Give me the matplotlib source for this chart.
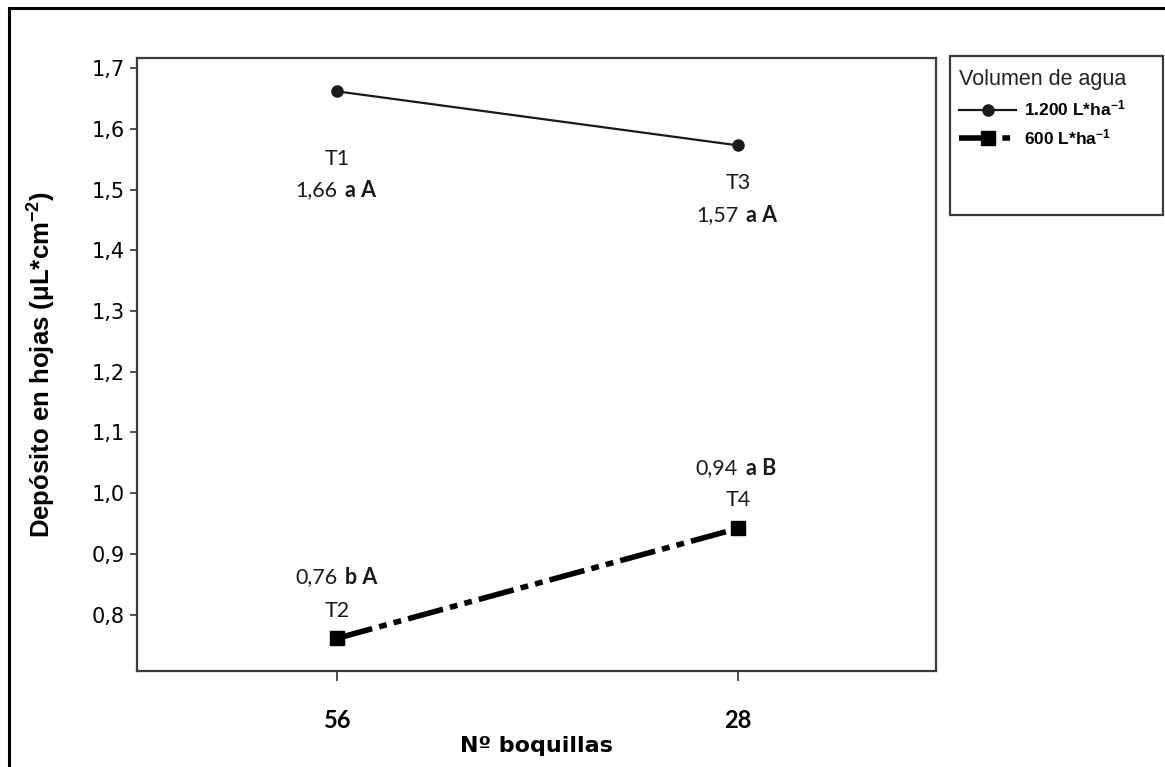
import matplotlib
matplotlib.use("Agg")
import matplotlib.pyplot as plt
from matplotlib.patches import Rectangle

# ---------------- data ----------------
categories = ["56", "28"]
series_names = ["1.200 L*ha$^{-1}$", "600 L*ha$^{-1}$"]
vol_1200 = [1.662, 1.573]
vol_600 = [0.761, 0.942]
treat_1200 = ["T1", "T3"]
treat_600 = ["T2", "T4"]
nums_1200 = ["1,66", "1,57"]
letters_1200 = ["a A", "a A"]
nums_600 = ["0,76", "0,94"]
letters_600 = ["b A", "a B"]
yticks = [0.8, 0.9, 1.0, 1.1, 1.2, 1.3, 1.4, 1.5, 1.6, 1.7]
ytick_labels = ["0,8", "0,9", "1,0", "1,1", "1,2", "1,3", "1,4", "1,5", "1,6", "1,7"]
legend_title = "Volumen de agua"
xlabel = "Nº boquillas"
ylabel = "Depósito en hojas (μL*cm$^{-2}$)"

plt.rcParams["mathtext.default"] = "regular"

W, H = 1165, 767
fig = plt.figure(figsize=(W / 100, H / 100), dpi=100)
fig.patch.set_facecolor("white")

# outer frame
fig.patches.append(Rectangle((9 / W, -0.2), 1.5, 1.2 - 8 / H,
                             transform=fig.transFigure, fill=False,
                             edgecolor="black", linewidth=2.2))

ax = fig.add_axes([137 / W, 1 - 671 / H, 799 / W, 613 / H])
x = list(range(len(categories)))

ax.plot(x, vol_1200, color="#1a1a1a", linewidth=1.6, marker="o",
        markersize=8, label=series_names[0], zorder=3)
l2, = ax.plot(x, vol_600, color="black", linewidth=4.0, marker="s",
              markersize=10, label=series_names[1], zorder=3,
              dash_capstyle="butt")
l2.set_dashes([6.5, 1.3, 1.4, 1.3, 1.4, 1.3])

ax.set_xlim(-0.5, 1.494)
ax.set_ylim(0.707, 1.717)
ax.set_xticks(x)
ax.set_xticklabels(categories, fontfamily="Lato", fontweight="bold", fontsize=17)
ax.set_yticks(yticks)
ax.set_yticklabels(ytick_labels, fontfamily="DejaVu Sans", fontsize=15)
ax.tick_params(axis="y", length=5, width=1.2, color="#333333", pad=4)
ax.tick_params(axis="x", length=7, width=1.2, color="#333333", pad=20)
for s in ax.spines.values():
    s.set_linewidth(1.6)
    s.set_color("#3a3a3a")

ax.set_xlabel(xlabel, fontfamily="DejaVu Sans", fontweight="bold",
              fontsize=16, labelpad=3)
ax.set_ylabel(ylabel, fontfamily="Liberation Sans", fontweight="bold",
              fontsize=18.5, labelpad=24)

# annotations
ann_font = dict(fontfamily="Lato", fontsize=15.5, color="#1a1a1a")
def annotate(xi, yi, treat, num, letters, dy_t, dy_n):
    ax.annotate(treat, (xi, yi), xytext=(0, dy_t), textcoords="offset pixels",
                ha="center", va="center", **ann_font)
    ax.annotate(num, (xi, yi), xytext=(0, dy_n), textcoords="offset pixels",
                ha="right", va="center", **ann_font)
    ax.annotate(letters, (xi, yi), xytext=(8, dy_n), textcoords="offset pixels",
                ha="left", va="center", fontweight="bold", **ann_font)

annotate(x[0], vol_1200[0], treat_1200[0], nums_1200[0], letters_1200[0], -68, -99)
annotate(x[1], vol_1200[1], treat_1200[1], nums_1200[1], letters_1200[1], -38, -70)
annotate(x[0], vol_600[0], treat_600[0], nums_600[0], letters_600[0], 27, 61)
annotate(x[1], vol_600[1], treat_600[1], nums_600[1], letters_600[1], 28, 60)

# legend box
fig.patches.append(Rectangle((950 / W, 1 - 215 / H), (1163 - 950) / W, (215 - 56) / H,
                             transform=fig.transFigure, fill=False,
                             edgecolor="#3a3a3a", linewidth=1.6))
leg = ax.legend(loc="upper left", bbox_to_anchor=(959 / W, 1 - 69 / H),
                bbox_transform=fig.transFigure, frameon=False,
                title=legend_title, handlelength=3.3, handletextpad=0.45,
                labelspacing=0.5, borderpad=0, borderaxespad=0,
                prop=dict(family="Liberation Sans", weight="bold", size=12.5),
                title_fontproperties=dict(family="Liberation Sans", size=15.5),
                alignment="left")
leg.get_title().set_color("#222222")

fig.savefig("out.png", dpi=100)
